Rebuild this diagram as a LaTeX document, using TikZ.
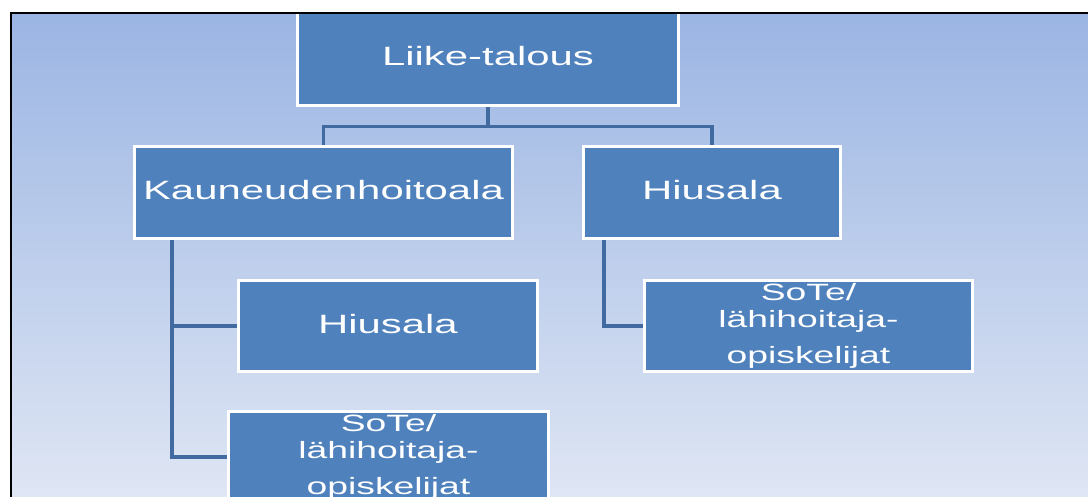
\documentclass[tikz,border=0pt]{standalone}
\usepackage{fontspec}
\newfontfamily\boxfont[FakeStretch=1.58]{Liberation Sans}
\usetikzlibrary{math}
\usetikzlibrary{positioning}
\definecolor{boxblue}{RGB}{79,129,189}
\definecolor{linkblue}{RGB}{64,106,160}
\definecolor{bgtop}{RGB}{155,181,227}
\definecolor{bgbot}{RGB}{223,230,244}
\tikzset{orgbox/.style={draw=white, line width=3.2pt, fill=boxblue, text=white, align=center, minimum width=#1, minimum height=91.3pt, inner sep=0pt, text depth=5pt, font=\boxfont\fontsize{26.5}{30}\selectfont},
	sotebox/.style={font=\boxfont\fontsize{23.6}{26.6}\selectfont},
	link/.style={draw=linkblue, line width=3.4pt}}

\begin{document}
\begin{tikzpicture}[x=1pt,y=-1pt]
	\tikzmath{\picw=1088; \pich=497; \frx=10.75; \fry=13.25;
	\rowa=58; \rowb=192.5; \rowc=326; \rowd=457;
	\dropy=19; \hanga=39; \hangb=22;}
	\useasboundingbox (0,0) rectangle (\picw,\pich);
	\fill[white] (0,0) rectangle (\picw,\pich);
	\begin{scope}
	\clip (\frx,\fry) rectangle (\picw,\pich);
	\shade[top color=bgtop, bottom color=bgbot] (\frx,\fry) rectangle (\picw,\pich);

	\node[orgbox=380.8pt, minimum height=95.3pt] (liike) at (488,\rowa) {Liike-talous};
	\node[orgbox=377.8pt] (kauneus) at (323.5,\rowb) {Kauneudenhoitoala};
	\node[orgbox=256.8pt] (hiusA) at (712,\rowb) {Hiusala};
	\node[orgbox=298.8pt] (hiusB) at (388,\rowc) {Hiusala};
	\node[orgbox=327.8pt, sotebox] (soteA) at (808.5,\rowc) {SoTe/\\lähihoitaja-\\[9.4pt]opiskelijat};
	\node[orgbox=319.8pt, sotebox] (soteB) at (388.5,\rowd) {SoTe/\\lähihoitaja-\\[9.4pt]opiskelijat};

	\draw[link] (liike.south) -- ([yshift=-\dropy pt]liike.south);
	\draw[link] (kauneus.north) |- ([yshift=-\dropy pt]liike.south) -| (hiusA.north);
	\draw[link] ([xshift=\hanga pt]kauneus.south west) |- (soteB.west);
	\draw[link] ([xshift=\hanga pt]kauneus.south west |- hiusB.west) -- (hiusB.west);
	\draw[link] ([xshift=\hangb pt]hiusA.south west) |- (soteA.west);
	\end{scope}

	\draw[black, line width=1.5pt] (\frx,\pich) -- (\frx,\fry) -- (\picw,\fry);
\end{tikzpicture}
\end{document}
